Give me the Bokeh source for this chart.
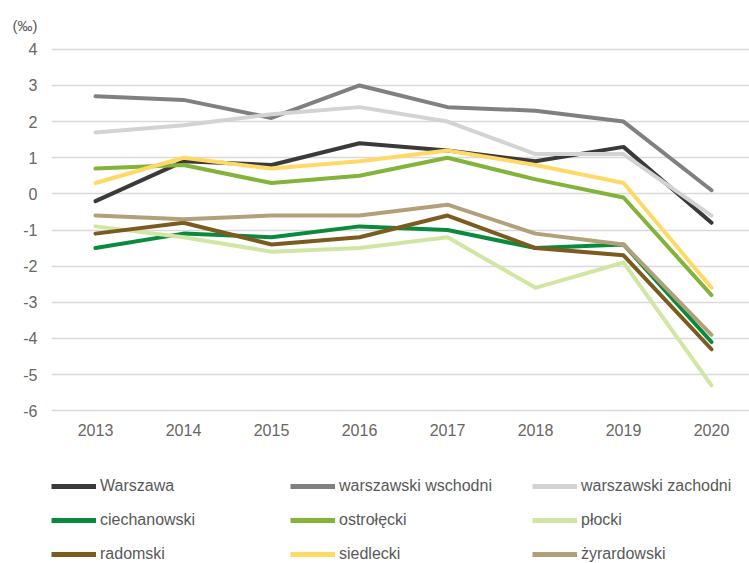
from bokeh.plotting import figure
from bokeh.models import Range1d, Legend, LegendItem, FixedTicker, ColumnDataSource, Title
from bokeh.layouts import column
from bokeh.embed import file_html
from bokeh.resources import INLINE

years = [2013, 2014, 2015, 2016, 2017, 2018, 2019, 2020]
names = ["Warszawa", "warszawski wschodni", "warszawski zachodni",
         "ciechanowski", "ostrołęcki", "płocki",
         "radomski", "siedlecki", "żyrardowski"]
warszawa = [-0.2, 0.9, 0.8, 1.4, 1.2, 0.9, 1.3, -0.8]
wschodni = [2.7, 2.6, 2.1, 3.0, 2.4, 2.3, 2.0, 0.1]
zachodni = [1.7, 1.9, 2.2, 2.4, 2.0, 1.1, 1.1, -0.6]
ciechanowski = [-1.5, -1.1, -1.2, -0.9, -1.0, -1.5, -1.4, -4.1]
ostrolecki = [0.7, 0.8, 0.3, 0.5, 1.0, 0.4, -0.1, -2.8]
plocki = [-0.9, -1.2, -1.6, -1.5, -1.2, -2.6, -1.9, -5.3]
radomski = [-1.1, -0.8, -1.4, -1.2, -0.6, -1.5, -1.7, -4.3]
siedlecki = [0.3, 1.0, 0.7, 0.9, 1.2, 0.8, 0.3, -2.6]
zyrardowski = [-0.6, -0.7, -0.6, -0.6, -0.3, -1.1, -1.4, -3.9]
series = [warszawa, wschodni, zachodni, ciechanowski, ostrolecki, plocki,
          radomski, siedlecki, zyrardowski]
colors = ["#3a3a3a", "#808080", "#d3d3d3", "#0a8a3c", "#84b33a", "#d2e6a4",
          "#7b5b1f", "#ffd966", "#b3a07a"]
y_ticks = [-6, -5, -4, -3, -2, -1, 0, 1, 2, 3, 4]
unit_label = "(‰)"

W = 749
H1, H2 = 445, 118
p = figure(width=W, height=H1, output_backend="svg", toolbar_location=None,
           x_range=Range1d(2012.5, 2012.5 + 698 / 88), y_range=Range1d(-6.05, 4.05),
           min_border_left=51, min_border_right=0, min_border_top=46, min_border_bottom=33)
p.outline_line_color = None
p.background_fill_color = "white"
p.border_fill_color = "white"

sources = [ColumnDataSource(dict(x=years, y=s)) for s in series]
for src, c in zip(sources, colors):
    p.line("x", "y", source=src, line_color=c, line_width=4,
           line_join="round", line_cap="round")

p.xgrid.grid_line_color = None
p.ygrid.grid_line_color = "#d9d9d9"
p.ygrid.grid_line_width = 1.5
p.yaxis.ticker = FixedTicker(ticks=y_ticks)
p.yaxis.major_label_overrides = {t: str(t) for t in y_ticks}
p.xaxis.ticker = FixedTicker(ticks=years)
for ax in (p.xaxis[0], p.yaxis[0]):
    ax.axis_line_color = None
    ax.major_tick_line_color = None
    ax.minor_tick_line_color = None
    ax.major_label_text_font = "Liberation Sans"
    ax.major_label_text_font_size = "16px"
    ax.major_label_text_color = "#666666"
p.xaxis.major_label_standoff = 5
p.yaxis.major_label_standoff = 8

p.add_layout(Title(text=unit_label, align="left", offset=-39, standoff=28,
                   text_font="Liberation Sans", text_font_size="15px",
                   text_color="#595959", text_font_style="normal"), "above")

# legend panel (a second figure whose frame is the whole area; its lines lie out of view)
q = figure(width=W, height=H2, output_backend="svg", toolbar_location=None,
           x_range=Range1d(0, 1), y_range=Range1d(0, 1),
           x_axis_location=None, y_axis_location=None,
           min_border_left=0, min_border_right=0, min_border_top=0, min_border_bottom=0)
q.outline_line_color = None
q.xgrid.grid_line_color = None
q.ygrid.grid_line_color = None
q.border_fill_color = "white"
leg_renderers = []
for src, c in zip(sources, colors):
    r = q.line("x", "y", source=src, line_color=c, line_width=5)
    leg_renderers.append(r)

col_x = [0, 239, 481]
for ci, vx in enumerate(col_x):
    items = [LegendItem(label=names[i], renderers=[leg_renderers[i]]) for i in (ci, ci + 3, ci + 6)]
    lg = Legend(items=items, location=(vx, 0), orientation="vertical",
                padding=0, margin=0, spacing=16, glyph_width=45, glyph_height=16,
                label_height=16, label_standoff=4,
                label_text_font="Liberation Sans", label_text_font_size="16px",
                label_text_color="#595959", border_line_color=None,
                background_fill_alpha=0)
    q.add_layout(lg, "center")

layout = column(p, q, spacing=0)
open("out.html", "w").write(file_html(layout, INLINE))
